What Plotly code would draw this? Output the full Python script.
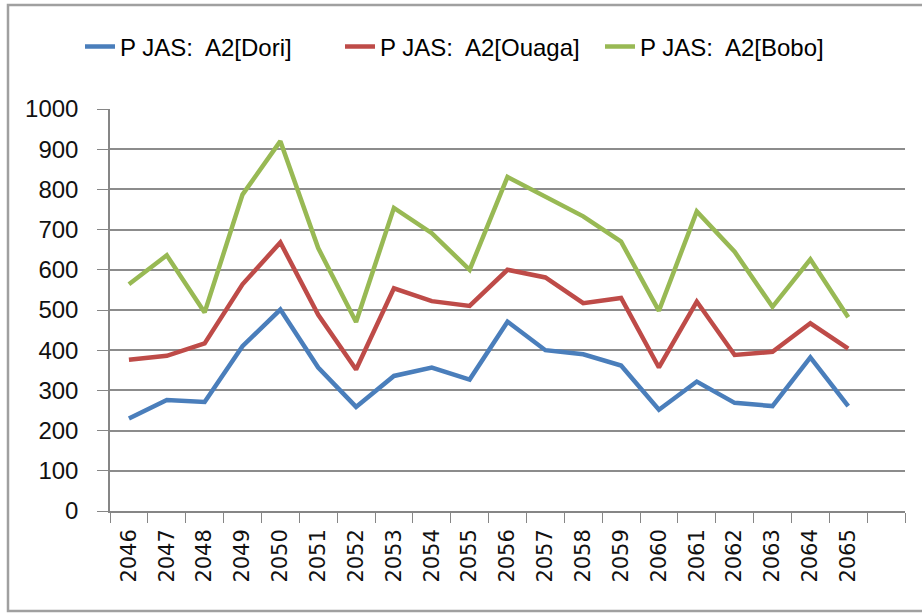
import plotly.graph_objects as go

years = [str(y) for y in range(2046, 2066)]
dori = [230, 276, 271, 410, 501, 357, 259, 336, 357, 327, 471, 400, 390, 362, 252, 322, 269, 261, 382, 261]
ouaga = [376, 386, 417, 564, 668, 488, 352, 554, 522, 510, 600, 581, 517, 530, 357, 521, 388, 396, 467, 404]
bobo = [564, 636, 494, 787, 920, 654, 470, 754, 691, 600, 831, 783, 733, 670, 498, 745, 645, 508, 626, 482]
names = ["P JAS:  A2[Dori]", "P JAS:  A2[Ouaga]", "P JAS:  A2[Bobo]"]
colors = ["#4A7EBB", "#BE4B48", "#98B954"]
categories = years + [" "]

fig = go.Figure()
for name, vals, c in zip(names, [dori, ouaga, bobo], colors):
    fig.add_trace(go.Scatter(x=years, y=vals, mode="lines", name=name,
                             line=dict(color=c, width=4.5)))

W, H = 922, 613
ml, mr, mt, mb = 110, 17, 109, 102
pw, ph = W - ml - mr, H - mt - mb

fig.update_layout(
    width=W, height=H,
    margin=dict(l=ml, r=mr, t=mt, b=mb),
    paper_bgcolor="white", plot_bgcolor="white",
    showlegend=True,
    legend=dict(orientation="h", x=(470 - ml) / pw, xanchor="center",
                y=1 + (mt - 47) / ph, yanchor="middle",
                font=dict(family="Liberation Sans, Arial, sans-serif", size=24, color="#000"),
                entrywidth=215, entrywidthmode="pixels", tracegroupgap=0),
    xaxis=dict(type="category", categoryorder="array", categoryarray=categories,
               range=[-0.5, 20.5], tickson="boundaries", showgrid=False,
               showline=True, linecolor="#868686", linewidth=1.5,
               ticks="outside", ticklen=10, tickcolor="#868686",
               tickangle=-90, ticklabelstandoff=8,
               tickfont=dict(family="DejaVu Sans, sans-serif", size=21, color="#111"),
               zeroline=False),
    yaxis=dict(range=[0, 1000], dtick=100, showgrid=True, gridcolor="#8c8c8c", gridwidth=1.5,
               showline=True, linecolor="#868686", linewidth=1.5,
               ticks="outside", ticklen=11, tickcolor="#868686", ticklabelstandoff=14,
               tickfont=dict(family="Liberation Sans, Arial, sans-serif", size=24, color="#111"),
               zeroline=False),
)

# outer frame
fig.add_shape(type="rect", xref="paper", yref="paper",
              x0=(8 - ml) / pw, x1=(W + 5 - ml) / pw,
              y0=1 - (611 - mt) / ph, y1=1 + (mt - 5) / ph,
              line=dict(color="#a0a0a0", width=2.5), layer="below")

fig.write_html("out.html", config={"displayModeBar": False},
               post_script="document.body.style.margin='0px';document.body.style.overflow='hidden';")
